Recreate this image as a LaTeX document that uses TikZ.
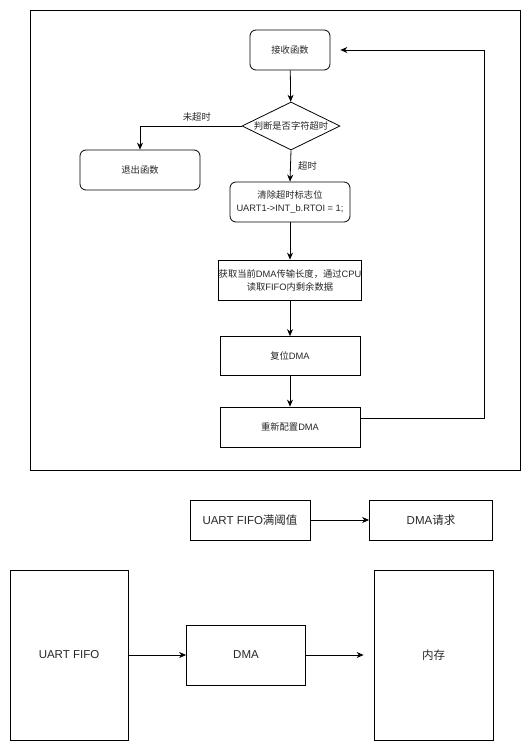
\documentclass[tikz,border=0pt]{standalone}
\usepackage{fontspec}
\setmainfont{Liberation Sans}
\newfontfamily\cjk{Noto Sans CJK SC}
\usetikzlibrary{arrows.meta,shapes.geometric,calc}
\begin{document}
\begin{tikzpicture}[x=1pt,y=-1pt,
  every node/.style={font=\fontsize{9.3}{13}\selectfont, text=black!85},
  rbox/.style={draw, line width=0.8pt, rounded corners=6pt, align=center, inner sep=0pt},
  sbox/.style={draw, line width=0.8pt, align=center, inner sep=0pt},
  bigbox/.style={draw, line width=0.8pt, align=center, inner sep=0pt, font=\fontsize{11.5}{14}\selectfont},
  dec/.style={draw, line width=0.8pt, diamond, aspect=2, inner sep=0pt, minimum width=98pt, minimum height=48pt},
  conn/.style={line width=0.8pt, -{Stealth[length=7pt,width=6pt]}},
  lbl/.style={font=\fontsize{9.3}{11}\selectfont}
]
\useasboundingbox (0,0) rectangle (531,752);
\draw[line width=0.8pt] (30,10) rectangle (520,470);

\node[rbox, minimum width=80pt, minimum height=40pt] (recv) at (290,50) {\cjk 接收函数};
\node[dec] (judge) at (291,126) {\cjk 判断是否字符超时};
\node[rbox, minimum width=120pt, minimum height=40pt] (exit) at (140,170) {\cjk 退出函数};
\node[rbox, minimum width=120pt, minimum height=40pt] (clear) at (290,202) {{\cjk 清除超时标志位}\\UART1->INT\_b.RTOI = 1;};
\node[sbox, minimum width=140pt, minimum height=40pt] (get) at (290,280) {{\cjk 获取当前}DMA{\cjk 传输长度，通过}CPU\\{\cjk 读取}FIFO{\cjk 内剩余数据}};
\node[sbox, minimum width=140pt, minimum height=39pt] (reset) at (290,356) {{\cjk 复位}DMA};
\node[sbox, minimum width=140pt, minimum height=40pt] (recfg) at (290,427) {{\cjk 重新配置}DMA};

\draw[conn] (recv) -- (judge);
\draw[conn] (judge.west) -| node[lbl, pos=0.22, above=1pt] {\cjk 未超时} (exit.north);
\draw[conn] (judge.south) -- node[lbl, right=4pt] {\cjk 超时} (clear.north);
\draw[conn] (clear) -- (get);
\draw[conn] (get) -- (reset);
\draw[conn] (reset) -- (recfg);
\draw[conn] ($(recfg.east)+(0,-9)$) -| (484,50) -- ($(recv.east)+(10,0)$);

\node[bigbox, minimum width=120pt, minimum height=40pt] (full) at (250,520) {UART FIFO{\cjk 满阈值}};
\node[bigbox, minimum width=123pt, minimum height=40pt] (req) at (431,520) {DMA{\cjk 请求}};
\draw[conn] (full) -- (req);

\node[bigbox, minimum width=118pt, minimum height=170pt] (fifo) at (69,655) {UART FIFO};
\node[bigbox, minimum width=119pt, minimum height=60pt] (dma) at (246,655) {DMA};
\node[bigbox, minimum width=119pt, minimum height=170pt] (mem) at (433.5,655) {\cjk 内存};
\draw[conn] (fifo) -- (dma);
\draw[conn] (dma) -- ($(mem.west)+(-10,0)$);
\end{tikzpicture}
\end{document}
